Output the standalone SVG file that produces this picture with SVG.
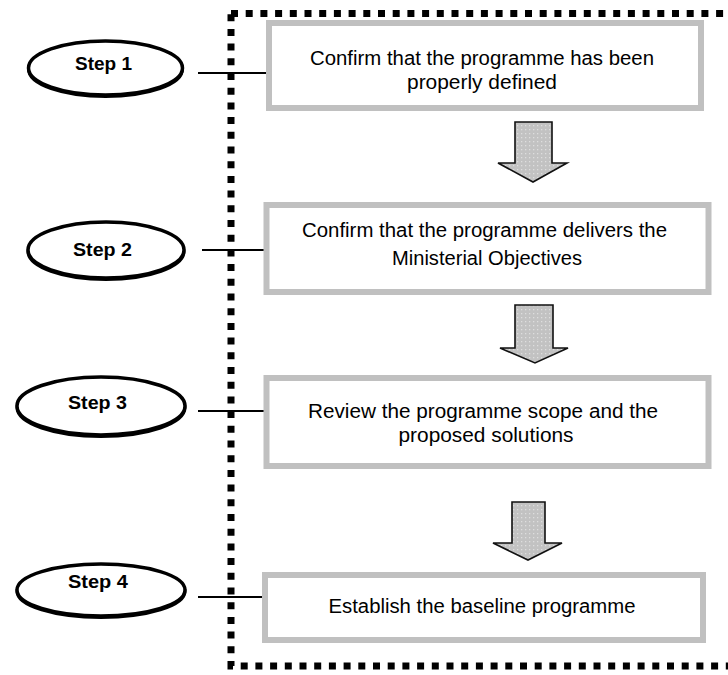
<svg xmlns="http://www.w3.org/2000/svg" width="728" height="675" viewBox="0 0 728 675">
<defs>
<pattern id="stip" width="4" height="4" patternUnits="userSpaceOnUse">
<rect width="4" height="4" fill="#c2c2c2"/>
<rect x="1" y="1" width="1.3" height="1.3" fill="#dedede"/>
</pattern>
<style>
.frame{fill:none;stroke:#000;stroke-width:7;stroke-dasharray:7 7.7}
.box{fill:#fff;stroke:#c0c0c0;stroke-width:6}
.oval{fill:#fff;stroke:#000;stroke-width:3.5}
.shadow{fill:none;stroke:#000;stroke-width:3}
.lbl{font-family:"Liberation Sans",Arial,sans-serif;font-weight:bold;font-size:18px;fill:#000;text-anchor:middle}
.txt{font-family:"Liberation Sans",Arial,sans-serif;font-size:20px;fill:#000;text-anchor:middle}
.link{stroke:#000;stroke-width:2;fill:none}
.arrow{fill:url(#stip);stroke:#111;stroke-width:1.6;stroke-linejoin:miter}
</style>
</defs>
<rect width="728" height="675" fill="#fff"/>

<g id="frame">
<rect class="frame" x="231" y="13.5" width="520" height="652.5"/>
</g>

<g id="connectors">
<line class="link" x1="198" y1="73" x2="267" y2="73"/>
<line class="link" x1="202" y1="250" x2="265" y2="250"/>
<line class="link" x1="198" y1="411" x2="265" y2="411"/>
<line class="link" x1="198" y1="597" x2="264" y2="597"/>
<path class="arrow" d="M515,122 H552 V163 H567 L533,182 L498,163 H515 Z"/>
<path class="arrow" d="M515,305 H553 V348 H568 L535,363 L500,348 H515 Z"/>
<path class="arrow" d="M512,502 H545 V543 H562 L528,560 L493,543 H512 Z"/>
</g>

<g id="step1">
<ellipse class="shadow" cx="105.5" cy="69.5" rx="77" ry="27"/>
<ellipse class="oval" cx="105.5" cy="68" rx="77" ry="27"/>
<text class="lbl" x="103.5" y="70" textLength="57" lengthAdjust="spacingAndGlyphs">Step 1</text>
</g>
<g id="step2">
<ellipse class="shadow" cx="106" cy="251.5" rx="78" ry="28"/>
<ellipse class="oval" cx="106" cy="250" rx="78" ry="28"/>
<text class="lbl" x="102.5" y="256" textLength="59" lengthAdjust="spacingAndGlyphs">Step 2</text>
</g>
<g id="step3">
<ellipse class="shadow" cx="101" cy="407.5" rx="84" ry="29"/>
<ellipse class="oval" cx="101" cy="406" rx="84" ry="29"/>
<text class="lbl" x="97.5" y="409" textLength="59" lengthAdjust="spacingAndGlyphs">Step 3</text>
</g>
<g id="step4">
<ellipse class="shadow" cx="101" cy="591.5" rx="84" ry="26"/>
<ellipse class="oval" cx="101" cy="590" rx="84" ry="26"/>
<text class="lbl" x="98" y="588" textLength="60" lengthAdjust="spacingAndGlyphs">Step 4</text>
</g>

<g id="box1">
<rect class="box" x="269" y="23" width="432" height="85"/>
<text class="txt" x="482" y="65" textLength="344" lengthAdjust="spacingAndGlyphs">Confirm that the programme has been</text>
<text class="txt" x="482" y="89" textLength="150" lengthAdjust="spacingAndGlyphs">properly defined</text>
</g>
<g id="box2">
<rect class="box" x="266.5" y="205" width="442" height="87"/>
<text class="txt" x="484.5" y="237" textLength="365" lengthAdjust="spacingAndGlyphs">Confirm that the programme delivers the</text>
<text class="txt" x="487" y="265" textLength="190" lengthAdjust="spacingAndGlyphs">Ministerial Objectives</text>
</g>
<g id="box3">
<rect class="box" x="266.5" y="378" width="442" height="88"/>
<text class="txt" x="483" y="418" textLength="350" lengthAdjust="spacingAndGlyphs">Review the programme scope and the</text>
<text class="txt" x="486" y="442" textLength="175" lengthAdjust="spacingAndGlyphs">proposed solutions</text>
</g>
<g id="box4">
<rect class="box" x="265" y="575" width="438" height="65"/>
<text class="txt" x="482" y="613" textLength="307" lengthAdjust="spacingAndGlyphs">Establish the baseline programme</text>
</g>
</svg>
